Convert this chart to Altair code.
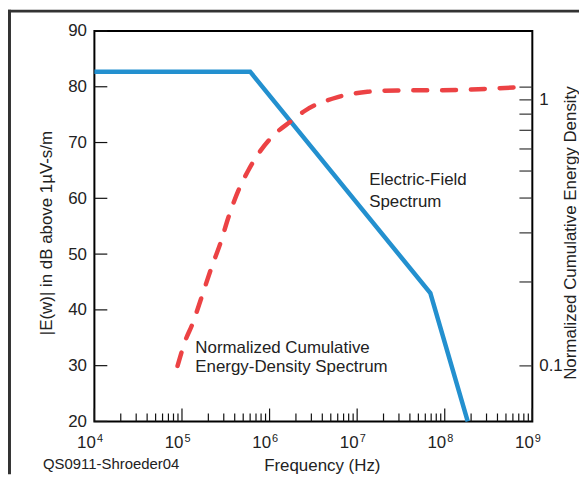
import altair as alt
import pandas as pd

# ---------------- data ----------------
# Electric-field spectrum (blue, left axis, dB)
freq_e = [1e4, 6.0e5, 6.85e7, 1.83e8]
db_e = [82.7, 82.7, 43.0, 20.0]

# Normalized cumulative energy density (red dashed, right log axis)
freq_c = [8.9e4, 1.10e5, 1.30e5, 1.69e5, 2.19e5, 2.74e5, 3.40e5, 4.41e5, 5.71e5,
          7.43e5, 1.05e6, 1.77e6, 2.51e6, 6.0e6, 1.31e7, 2.87e7, 1.37e8, 3.0e8, 7.4e8]
cum_c = [0.100, 0.124, 0.140, 0.178, 0.227, 0.275, 0.342, 0.426, 0.502,
         0.576, 0.660, 0.756, 0.821, 0.921, 0.962, 0.973, 0.976, 0.986, 1.0]

# axis ticks / labels
x_decades = [1e4, 1e5, 1e6, 1e7, 1e8, 1e9]
x_exponents = ["4", "5", "6", "7", "8", "9"]
x_minor = [k * d for d in x_decades[:-1] for k in range(2, 10)]
left_ticks = [20, 30, 40, 50, 60, 70, 80, 90]
right_ticks = [0.1, 0.2, 0.3, 0.4, 0.5, 0.6, 0.7, 0.8, 0.9, 1.0]
right_label_values = [0.1, 1.0]

# annotations
ann_text = ["Electric-Field", "Spectrum", "Normalized Cumulative", "Energy-Density Spectrum"]
ann_freq = [1.37e7, 1.37e7, 1.42e5, 1.42e5]
ann_db = [62.31, 58.49, 32.35, 28.93]
credit = ["QS0911-Shroeder04"]

# ---------------- layout / style ----------------
W, H = 441, 393.2
PAD_L, PAD_T, PAD_R, PAD_B = 87, 21.5, 47, 53.3
FONT = "Liberation Sans"
TXT = "#222222"
BLUE = "#2390cf"
RED = "#ec4244"

xs = alt.Scale(type="log", domain=[1e4, 1e9], nice=False)
ys_db = alt.Scale(domain=[20, 90], nice=False, zero=False)
ys_cum = alt.Scale(type="log", domain=[0.0632, 1.59], nice=False)

df_e = pd.DataFrame({"f": freq_e, "db": db_e})
df_c = pd.DataFrame({"f": freq_c, "c": cum_c})
df_major = pd.DataFrame({"f": x_decades, "e": x_exponents})
df_minor = pd.DataFrame({"f": x_minor})
df_lt = pd.DataFrame({"v": left_ticks})
df_rt = pd.DataFrame({"v": right_ticks})
df_ann = pd.DataFrame({"t": ann_text, "f": ann_freq, "db": ann_db})
df_credit = pd.DataFrame({"t": credit})

x_axis = alt.Axis(
    values=x_decades, labelExpr="'10'", labelAlign="right", labelOffset=1,
    labelBaseline="alphabetic", labelPadding=26, labelFontSize=17, labelFont=FONT,
    labelColor=TXT, labelFlush=False, labelOverlap=False, labelBound=False,
    ticks=False, tickSize=0, domain=False, grid=False,
    title="Frequency (Hz)", titleFont=FONT, titleFontSize=17, titleFontWeight="normal",
    titleColor=TXT, titleX=229, titleY=49.5, titleBaseline="alphabetic", titleAlign="center",
)

left_axis = alt.Axis(
    orient="left", values=left_ticks, labelFontSize=17, labelFont=FONT, labelColor=TXT,
    labelPadding=8, labelFlush=False, labelOverlap=False, labelBound=False,
    ticks=False, tickSize=0, domain=False, grid=False,
    title="|E(w)| in dB above 1µV-s/m", titleFont=FONT, titleFontSize=17,
    titleFontWeight="normal", titleColor=TXT, titleAngle=270, titleX=-42.8, titleY=203,
    titleAlign="center", titleBaseline="alphabetic",
)

right_axis = alt.Axis(
    orient="right", values=right_label_values,
    labelExpr="datum.value >= 0.5 ? '1' : '0.1'",
    labelOffset={"condition": {"test": "datum.value >= 0.5", "value": 13}, "value": 0},
    labelFontSize=17, labelFont=FONT, labelColor=TXT, labelPadding=6.5,
    labelFlush=False, labelOverlap=False, labelBound=False,
    ticks=False, tickSize=0, domain=False, grid=False,
    title="Normalized Cumulative Energy Density", titleFont=FONT, titleFontSize=17,
    titleFontWeight="normal", titleColor=TXT, titleAngle=270, titleX=43, titleY=203,
    titleAlign="center", titleBaseline="alphabetic",
)

tick_color = "#111111"
X = lambda: alt.X("f:Q", scale=xs, axis=x_axis)

minor_ticks = alt.Chart(df_minor).mark_rule(color=tick_color, strokeWidth=1.2).encode(
    x=X(), y=alt.value(H - 8), y2=alt.value(H))
major_ticks = alt.Chart(df_major).mark_rule(color=tick_color, strokeWidth=1.2).encode(
    x=X(), y=alt.value(H - 13), y2=alt.value(H))
left_tk = alt.Chart(df_lt).mark_rule(color=tick_color, strokeWidth=1.2).encode(
    y=alt.Y("v:Q", scale=ys_db, axis=None), x=alt.value(0), x2=alt.value(13))
right_tk = alt.Chart(df_rt).mark_rule(color="#333333", strokeWidth=1.2).encode(
    y=alt.Y("v:Q", scale=ys_cum, axis=None), x=alt.value(W - 13), x2=alt.value(W))

exps = alt.Chart(df_major).mark_text(
    align="left", baseline="alphabetic", dx=2.5, fontSize=11, font=FONT, color=TXT
).encode(x=X(), y=alt.value(413.5), text="e:N")

blue = alt.Chart(df_e).mark_line(color=BLUE, strokeWidth=4.5).encode(
    x=X(), y=alt.Y("db:Q", scale=ys_db, axis=left_axis))

red = alt.Chart(df_c).mark_line(
    color=RED, strokeWidth=4.5, strokeDash=[14, 15], strokeCap="round", interpolate="monotone"
).encode(x=X(), y=alt.Y("c:Q", scale=ys_cum, axis=right_axis))

ann = alt.Chart(df_ann).mark_text(
    align="left", baseline="alphabetic", fontSize=17, font=FONT, color=TXT
).encode(x=X(), y=alt.Y("db:Q", scale=ys_db, axis=None), text="t:N")

credit_txt = alt.Chart(df_credit).mark_text(
    align="left", baseline="alphabetic", fontSize=15, font=FONT, color=TXT
).encode(x=alt.value(-51.7), y=alt.value(441.5), text="t:N")

frame_left = alt.Chart(df_credit).mark_rule(color="#333333", strokeWidth=3).encode(
    x=alt.value(-85.5), y=alt.value(-PAD_T), y2=alt.value(H + PAD_B))
frame_top = alt.Chart(df_credit).mark_rule(color="#333333", strokeWidth=3).encode(
    y=alt.value(-PAD_T + 1.5), x=alt.value(-PAD_L), x2=alt.value(W + PAD_R))

chart = alt.layer(
    frame_left, frame_top, minor_ticks, major_ticks, left_tk, right_tk,
    blue, red, ann, exps, credit_txt
).resolve_scale(y="independent").properties(
    width=W, height=H,
    autosize=alt.AutoSizeParams(type="none"),
    padding={"left": PAD_L, "top": PAD_T, "right": PAD_R, "bottom": PAD_B},
).configure(background="white").configure_view(stroke="black", strokeWidth=2)

chart.save("out.html", embed_options={"renderer": "svg", "actions": False})
